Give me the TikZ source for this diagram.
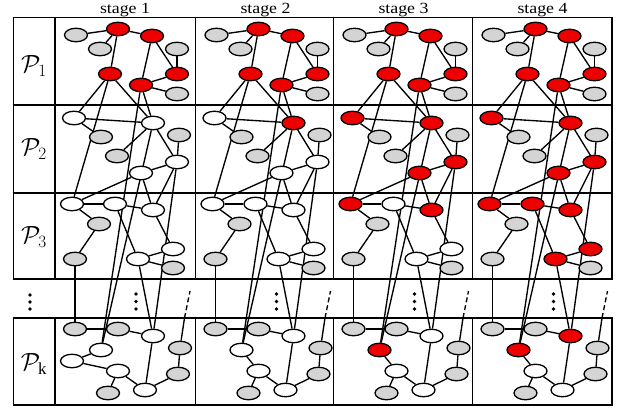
\documentclass[tikz,border=0pt]{standalone}
\usepackage{fontspec}
\setmainfont{Liberation Serif}
\usetikzlibrary{shapes.geometric}
\pgfdeclarelayer{bg}
\pgfsetlayers{bg,main}
\definecolor{nodered}{RGB}{238,0,0}
\definecolor{nodegray}{RGB}{212,212,212}
\begin{document}
\begin{tikzpicture}[x=1pt,y=-1pt,
  nd/.style={ellipse, draw=black, line width=1.3pt, minimum width=23pt, minimum height=13.5pt, inner sep=0pt},
  tr/.style={fill=nodered},
  tg/.style={fill=nodegray},
  tw/.style={fill=white},
  edge/.style={line width=1.35pt, black},
  frame/.style={line width=1.4pt, black},
  dotn/.style={circle, fill=black, inner sep=0pt, minimum size=3.8pt},
  stagelbl/.style={font=\fontsize{15.5}{15.5}\selectfont, anchor=base},
  plbl/.style={font=\fontsize{24}{24}\selectfont}]
\useasboundingbox (0,0) rectangle (618,410);
% label column
\draw[frame] (13.5,17.7) rectangle (55,279);
\draw[frame] (13.5,105) -- (55,105);
\draw[frame] (13.5,193) -- (55,193);
\draw[frame] (13.5,318) rectangle (55,405);
\node[plbl] (p1) at (34,66) {$\mathcal{P}_1$};
\node[plbl] (p2) at (34,149) {$\mathcal{P}_2$};
\node[plbl] (p3) at (34,237) {$\mathcal{P}_3$};
\node[plbl] (pk) at (34,364) {$\mathcal{P}_{\mathrm{k}}$};
\node[dotn] (ld1) at (30,295) {};
\node[dotn] (ld2) at (30,302) {};
\node[dotn] (ld3) at (30,309) {};
\foreach \s/\xo/\xe in {1/55/195.5, 2/195.5/333.5, 3/333.5/472.5, 4/472.5/612}{
  \draw[frame] (\xo,17.7) rectangle (\xe,279);
  \draw[frame] (\xo,105) -- (\xe,105);
  \draw[frame] (\xo,193) -- (\xe,193);
  \draw[frame] (\xo,318) rectangle (\xe,405);
  \begin{scope}[xshift=\xo pt]
    \node[stagelbl] (hd\s) at (70,13) {\scalebox{1.15}[1]{stage \s}};
    \node[dotn] (s\s d1) at (81,294) {};
    \node[dotn] (s\s d2) at (81,301.5) {};
    \node[dotn] (s\s d3) at (81,309) {};
    \foreach \n/\x/\y/\ka/\kb/\kc/\kd in {
      g1/21/35/g/g/g/g, r1/63/29/r/r/r/r, r2/97/36/r/r/r/r, g2/45/49/g/g/g/g,
      g3/122/49/g/g/g/g, r3/55/74/r/r/r/r, r4/86/85/r/r/r/r, r5/122/74/r/r/r/r,
      g4/122/94/g/g/g/g,
      w1/19/118/w/w/r/r, w2/98/123/w/r/r/r, g5/46/137/g/g/g/g, g6/124/135/g/g/g/g,
      g7/62/156/g/g/g/g, w3/122/162/w/w/r/r, w4/86/173/w/w/r/r,
      w5/17/204/w/w/r/r, w6/60/204/w/w/w/r, w7/98/210/w/w/r/r, g8/44/224/g/g/g/g,
      g9/20/259/g/g/g/g, w9/83/259/w/w/w/r, w8/118/249/w/w/w/r, g10/118/268/g/g/g/g,
      g11/20/329/g/g/g/g, g12/63/329/g/g/g/g, w12/98/336/w/w/w/r, w10/46/350/w/w/r/r,
      g13/125/348/g/g/g/g, w13/63/371/w/w/w/w, g14/123/374/g/g/g/g,
      w14/90/390/w/w/w/w, g15/53/393/g/g/g/g}{
      \ifcase\s\or\edef\kk{\ka}\or\edef\kk{\kb}\or\edef\kk{\kc}\or\edef\kk{\kd}\fi
      \node[nd, t\kk] (s\s\n) at (\x,\y) {};
    }
    \ifnum\s=1
      \node[nd, tw] (s1w11) at (17,361) {};
    \fi
    \coordinate (s\s e1) at (129.5,318);
    \coordinate (s\s e2) at (135,291);
  \end{scope}
  \begin{pgfonlayer}{bg}
    \foreach \a/\b in {g1/r1, g2/r1, r1/r2, r1/r3, r2/r4, r2/r5, g3/r5, r4/r5, r4/g4,
      r3/w1, r3/w2, r4/w2, r3/w5, r4/w10, w2/w10,
      w1/w2, w1/g5, w2/g7, w2/w3, g6/w3, w3/w4,
      w4/w5, w4/w7, w3/w7, w3/w12,
      w5/w6, w5/g8, g8/g9, w6/w7, w6/w9, w7/w8, w9/w8, w9/g10,
      g9/g11, w9/w12,
      g11/g12, g12/w12, w12/w14, w13/w14, w13/g15, w14/g14, g14/g13}{
      \draw[edge] (s\s\a) -- (s\s\b);
    }
    \ifnum\s=1
      \draw[edge] (s1w10) -- (s1w11);
      \draw[edge] (s1w11) -- (s1w13);
    \else
      \draw[edge] (s\s w10) -- (s\s w13);
    \fi
    \draw[edge] (s\s g13) -- (s\s e1);
    \draw[edge, dash pattern=on 5pt off 3pt] (s\s e1) -- (s\s e2);
  \end{pgfonlayer}
}
\end{tikzpicture}
\end{document}
